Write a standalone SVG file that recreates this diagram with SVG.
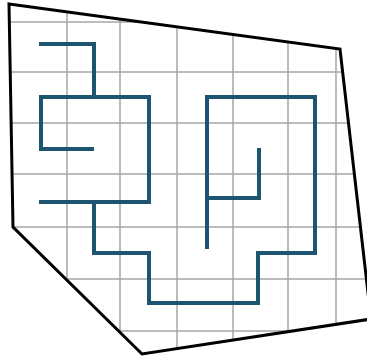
<svg xmlns="http://www.w3.org/2000/svg" width="367" height="362" viewBox="0 0 367 362">
<style>
.grid{stroke:#a6a6a6;stroke-width:1.5;fill:none}
.maze{stroke:#1d5470;stroke-width:4;fill:none;stroke-linejoin:miter;stroke-linecap:butt}
.border{stroke:#000;stroke-width:3;fill:none;stroke-linejoin:miter}
</style>
<defs>
<clipPath id="clip"><polygon points="9,4 340,49 371,319 142,354 13,227"/></clipPath>
</defs>
<rect width="367" height="362" fill="#fff"/>
<g id="grid" clip-path="url(#clip)">
<path class="grid" d="M67,0V362M120,0V362M177,0V362M233,0V362M288,0V362M336,0V362M0,22H367M0,72H367M0,123H367M0,174H367M0,227H367M0,279H367M0,331H367"/>
</g>
<g id="maze">
<path class="maze" d="M39,44H94V97"/>
<path class="maze" d="M94,149H41V97H149V202H39"/>
<path class="maze" d="M94,202V253H149V303H258V253H315V97H207V249"/>
<path class="maze" d="M259,148V198H207"/>
</g>
<g id="outline">
<polygon class="border" points="9,4 340,49 371,319 142,354 13,227"/>
</g>
</svg>
